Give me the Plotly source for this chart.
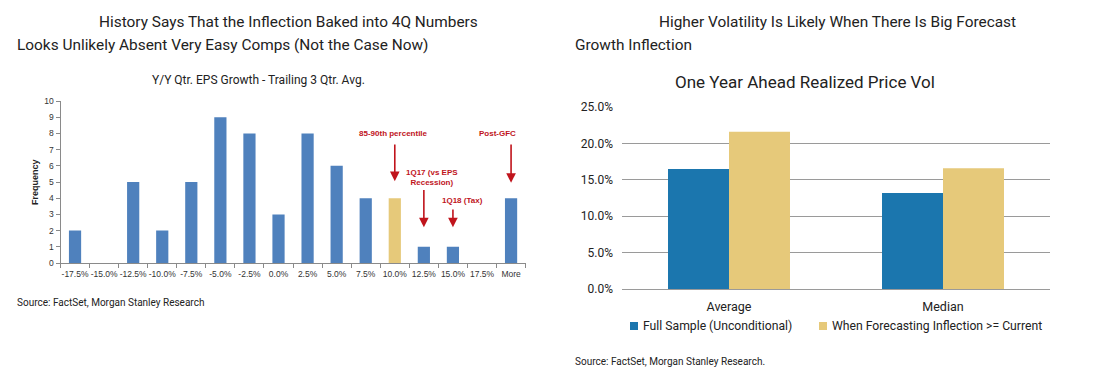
import plotly.graph_objects as go

W, H = 1116, 389
OFF = 8  # browser default body margin
FW, FH = W - 2 * OFF, H - 2 * OFF

# Left chart data
hist_bins = ["-17.5%", "-15.0%", "-12.5%", "-10.0%", "-7.5%", "-5.0%", "-2.5%", "0.0%",
             "2.5%", "5.0%", "7.5%", "10.0%", "12.5%", "15.0%", "17.5%", "More"]
hist_freq = [2, 0, 5, 2, 5, 9, 8, 3, 8, 6, 4, 4, 1, 1, 0, 4]
highlight_bin = "10.0%"

# Right chart data
vol_cats = ["Average", "Median"]
vol_full = [16.5, 13.2]
vol_inflect = [21.6, 16.6]
vol_names = ["Full Sample (Unconditional)", "When Forecasting Inflection >= Current"]

BLUE_L = "#4F81BD"
YEL = "#E6C97A"
BLUE_R = "#1B76AE"
RED = "#C0141C"
FONT = "Roboto"

def px(x):
    return (x - OFF) / FW

def py(y):
    return 1 - (y - OFF) / FH

fig = go.Figure()

fig.add_trace(go.Bar(
    x=hist_bins, y=hist_freq, width=0.42,
    marker=dict(color=[YEL if b == highlight_bin else BLUE_L for b in hist_bins], line=dict(width=0)),
    xaxis="x", yaxis="y", showlegend=False,
))

fig.add_trace(go.Bar(x=vol_cats, y=vol_full, name=vol_names[0],
                     marker=dict(color=BLUE_R, line=dict(width=0)),
                     xaxis="x2", yaxis="y2", showlegend=False))
fig.add_trace(go.Bar(x=vol_cats, y=vol_inflect, name=vol_names[1],
                     marker=dict(color=YEL, line=dict(width=0)),
                     xaxis="x2", yaxis="y2", showlegend=False))

axcol = "#8a8a8a"
fig.update_layout(
    width=FW, height=FH,
    margin=dict(l=0, r=0, t=0, b=0, autoexpand=False),
    paper_bgcolor="white", plot_bgcolor="white",
    font=dict(family=FONT, color="#222"),
    barmode="group",
    bargap=0.43,
    showlegend=False,
    xaxis=dict(domain=[px(60.5), px(525.6)], anchor="y", type="category", automargin=False,
               showline=True, linecolor=axcol, linewidth=1, tickangle=0,
               ticks="outside", tickson="boundaries", ticklen=4, tickcolor=axcol,
               tickfont=dict(size=8.5, family="Liberation Sans Narrow, Liberation Sans", color="#333"),
               ticklabelstandoff=3,
               showgrid=False, fixedrange=True),
    yaxis=dict(domain=[py(263), py(101)], anchor="x", range=[0, 10], dtick=1, automargin=False,
               showline=True, linecolor=axcol, linewidth=1,
               ticks="outside", ticklen=4, tickcolor=axcol,
               tickfont=dict(size=8.5, family="Liberation Sans", color="#333"),
               showgrid=False, zeroline=False),
    xaxis2=dict(domain=[px(622), px(1050)], anchor="y2", type="category", automargin=False,
                showline=False, ticks="", showgrid=False, ticklabelstandoff=8,
                tickfont=dict(size=12.5, family=FONT, color="#222")),
    yaxis2=dict(domain=[py(289), py(107)], anchor="x2", range=[0, 25], dtick=5, automargin=False,
                tickformat=".1f", ticksuffix="%",
                showline=False, showgrid=True, gridcolor="#9a9a9a", gridwidth=1,
                zeroline=True, zerolinecolor="#9a9a9a", zerolinewidth=1,
                tickfont=dict(size=12, family=FONT, color="#222"), ticklabelstandoff=8),
)

annotations = []
shapes = []
def txt(x, y, s, size, anchor="left", color="#222", family=FONT, angle=0):
    annotations.append(dict(xref="paper", yref="paper", x=px(x), y=py(y), text=s, showarrow=False,
                            xanchor=anchor, yanchor="middle", textangle=angle,
                            font=dict(size=size, color=color, family=family)))

txt(97, 22, "History Says That the Inflection Baked into 4Q Numbers", 15.4)
txt(15, 45, "Looks Unlikely Absent Very Easy Comps (Not the Case Now)", 15.4)
txt(258, 80, "Y/Y Qtr. EPS Growth - Trailing 3 Qtr. Avg.", 12, anchor="center")
txt(35, 182, "<b>Frequency</b>", 9, anchor="center", family="Liberation Sans", angle=-90)
txt(657, 22, "Higher Volatility Is Likely When There Is Big Forecast", 15.4)
txt(573, 45, "Growth Inflection", 15.4)
txt(805, 82, "One Year Ahead Realized Price Vol", 17, anchor="center")
txt(15, 302, "Source: FactSet, Morgan Stanley Research", 10)
txt(573, 361, "Source: FactSet, Morgan Stanley Research.", 10)

# legend (right chart)
for col, name, x0 in [(BLUE_R, vol_names[0], 630), (YEL, vol_names[1], 819)]:
    shapes.append(dict(type="rect", xref="paper", yref="paper", x0=px(x0), x1=px(x0 + 8),
                       y0=py(330), y1=py(322), fillcolor=col, line=dict(width=0)))
    txt(x0 + 11, 326, name, 12.2)

# red callouts
def callout_text(x, y, s):
    annotations.append(dict(xref="paper", yref="paper", x=px(x), y=py(y), text="<b>" + s + "</b>",
                            showarrow=False, xanchor="center", yanchor="middle",
                            font=dict(size=8, color=RED, family="Liberation Sans")))

def arrow(cat, v_tip, v_tail):
    annotations.append(dict(xref="x", yref="y", x=cat, y=v_tip, axref="x", ayref="y", ax=cat, ay=v_tail,
                            text="", showarrow=True, arrowhead=2, arrowsize=1.2, arrowwidth=1.6,
                            arrowcolor=RED))

callout_text(393, 133, "85-90th percentile")
callout_text(497, 133, "Post-GFC")
callout_text(432, 177, "1Q17 (vs EPS<br>Recession)")
callout_text(462, 200, "1Q18 (Tax)")
arrow("10.0%", 5.05, 7.4)
arrow("More", 4.95, 7.4)
arrow("12.5%", 2.2, 4.6)
arrow("15.0%", 2.2, 3.4)

fig.update_layout(annotations=annotations, shapes=shapes)
fig.write_html("out.html")
